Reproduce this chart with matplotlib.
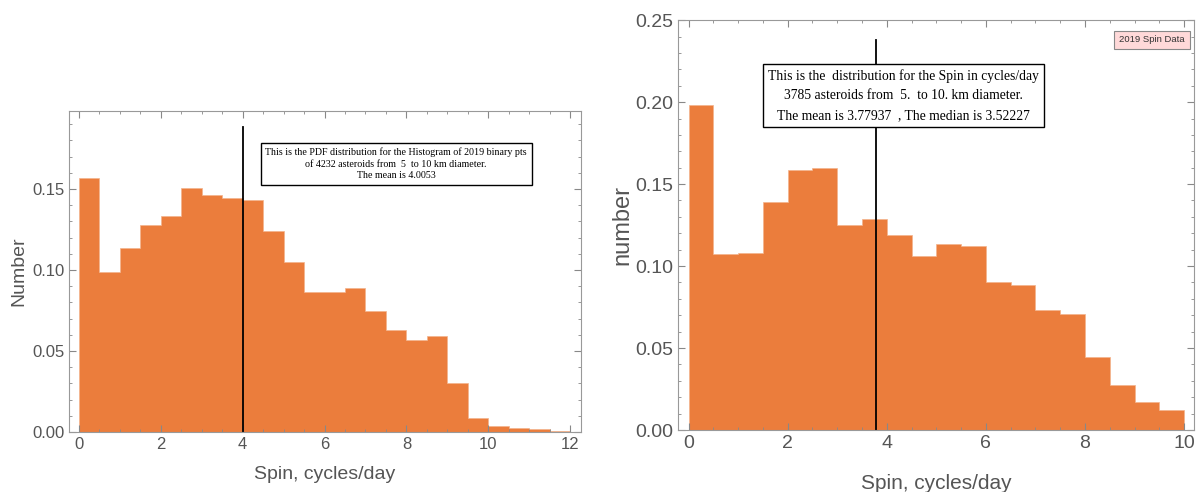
import matplotlib.pyplot as plt
from matplotlib.ticker import MultipleLocator
import numpy as np

# data
left_edges = np.arange(0, 12.01, 0.5)
left_pdf = [0.157, 0.099, 0.1137, 0.128, 0.133, 0.1504, 0.1463, 0.1444,
            0.143, 0.124, 0.1048, 0.0867, 0.0867, 0.0886, 0.0745, 0.0627,
            0.057, 0.0593, 0.0301, 0.0085, 0.0037, 0.0023, 0.0019, 0.0008]
left_mean = 4.0053

right_edges = np.arange(0, 10.01, 0.5)
right_pdf = [0.1983, 0.1073, 0.1077, 0.139, 0.1584, 0.1598, 0.125, 0.1289,
             0.1189, 0.1063, 0.1134, 0.1124, 0.0904, 0.0882, 0.0729, 0.0708,
             0.0444, 0.0275, 0.0169, 0.012]
right_mean = 3.77937

left_text = ("This is the PDF distribution for the Histogram of 2019 binary pts\n"
             "of 4232 asteroids from  5  to 10 km diameter.\n"
             "The mean is 4.0053")
right_text = ("This is the  distribution for the Spin in cycles/day\n"
              "3785 asteroids from  5.  to 10. km diameter.\n"
              "The mean is 3.77937  , The median is 3.52227")

orange = '#eb7d3c'
grey = '#555555'
sans = ['Liberation Sans', 'DejaVu Sans']
serif = ['Liberation Serif', 'DejaVu Serif']

fig = plt.figure(figsize=(11.96, 4.92), dpi=100)
ax1 = fig.add_axes([0.0577, 0.122, 0.428, 0.652])
ax2 = fig.add_axes([0.567, 0.126, 0.431, 0.833])


def frame(ax, size):
    for s in ax.spines.values():
        s.set_color('#999999')
        s.set_linewidth(0.8)
    ax.tick_params(which='both', direction='in', top=True, right=True,
                   colors='#888888', labelcolor=grey)
    ax.tick_params(which='major', length=5, labelsize=size)
    ax.tick_params(which='minor', length=2.5)
    for lab in ax.get_xticklabels() + ax.get_yticklabels():
        lab.set_family(sans)


# left panel
ax1.stairs(left_pdf, left_edges, fill=True, color=orange, ec='#f3b38c', lw=0.5)
ax1.plot([left_mean, left_mean], [0, 0.188], color='black', lw=1.3)
ax1.set_xlim(-0.24, 12.26)
ax1.set_ylim(0, 0.198)
ax1.set_xticks([0, 2, 4, 6, 8, 10, 12])
ax1.set_yticks([0, 0.05, 0.10, 0.15])
ax1.set_yticklabels(['0.00', '0.05', '0.10', '0.15'])
ax1.xaxis.set_minor_locator(MultipleLocator(0.5))
ax1.yaxis.set_minor_locator(MultipleLocator(0.01))
frame(ax1, 12)
ax1.set_xlabel('Spin, cycles/day', family=sans, fontsize=14, color=grey, labelpad=10)
ax1.set_ylabel('Number', family=sans, fontsize=14, color=grey, labelpad=3)
ax1.text(7.75, 0.1655, left_text, family=serif, fontsize=7.2, ha='center', va='center',
         linespacing=1.35,
         bbox=dict(boxstyle='square,pad=0.45', fc='white', ec='black', lw=1.0))

# right panel
ax2.stairs(right_pdf, right_edges, fill=True, color=orange, ec='#f3b38c', lw=0.5)
ax2.plot([right_mean, right_mean], [0, 0.238], color='black', lw=1.3)
ax2.set_xlim(-0.21, 10.19)
ax2.set_ylim(0, 0.25)
ax2.set_xticks([0, 2, 4, 6, 8, 10])
ax2.set_yticks([0, 0.05, 0.10, 0.15, 0.20, 0.25])
ax2.set_yticklabels(['0.00', '0.05', '0.10', '0.15', '0.20', '0.25'])
ax2.xaxis.set_minor_locator(MultipleLocator(0.5))
ax2.yaxis.set_minor_locator(MultipleLocator(0.01))
frame(ax2, 14)
ax2.set_xlabel('Spin, cycles/day', family=sans, fontsize=15, color=grey, labelpad=16)
ax2.set_ylabel('number', family=sans, fontsize=17, color=grey, labelpad=1)
ax2.text(4.34, 0.204, right_text, family=serif, fontsize=9.8, ha='center', va='center',
         linespacing=1.65,
         bbox=dict(boxstyle='square,pad=0.35', fc='white', ec='black', lw=1.0))
ax2.text(9.35, 0.238, '2019 Spin Data', family=sans, fontsize=6.8, ha='center', va='center',
         color='#333333',
         bbox=dict(boxstyle='square,pad=0.5', fc='#ffd9d9', ec='#888888', lw=0.8))

fig.savefig('out.png', dpi=100)
